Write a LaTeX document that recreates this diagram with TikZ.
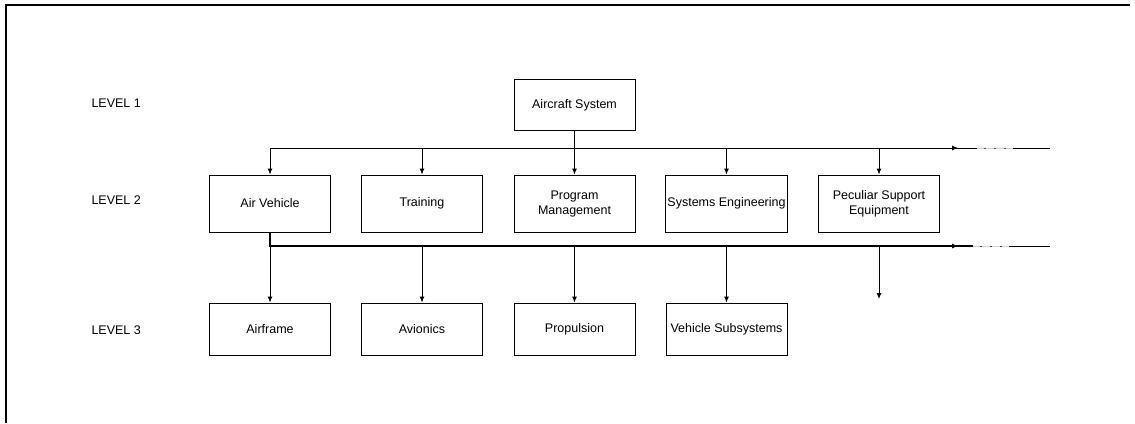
\documentclass[tikz,border=0pt]{standalone}
\usepackage{fontspec}
\setmainfont{Liberation Sans}
\usetikzlibrary{arrows.meta}
\begin{document}
\begin{tikzpicture}[x=1pt,y=-1pt,
  wbs/.style={draw, line width=0.9pt, minimum width=121pt, minimum height=55pt,
    align=center, inner sep=2pt, font=\fontsize{12.5}{15}\selectfont},
  lvl/.style={anchor=west, font=\fontsize{12.5}{15}\selectfont},
  link/.style={line width=0.9pt},
  feed/.style={line width=0.9pt, -{Latex[length=6pt,width=5pt]}},
  gap/.style={line width=1pt, gray!35},
  dots/.style={line width=1pt, black!70, dash pattern=on 2pt off 8pt}]
\useasboundingbox (0,0) rectangle (1135,423);
% page frame (top and left edges)
\draw[line width=1.4pt] (6,423) -- (6,5) -- (1130,5);

% level labels
\node[lvl] (l1) at (88,103) {LEVEL 1};
\node[lvl] (l2) at (88,200) {LEVEL 2};
\node[lvl] (l3) at (88,330) {LEVEL 3};

% level 1
\node[wbs, minimum height=51pt] (sys) at (574.5,105) {Aircraft System};

% level 2
\node[wbs, minimum height=57pt] (av) at (270,203.5) {Air Vehicle};
\node[wbs, minimum height=57pt] (tr) at (422,203.5) {Training};
\node[wbs, minimum height=57pt] (pm) at (574.5,203.5) {Program\\Management};
\node[wbs, minimum height=57pt] (se) at (726.5,203.5) {Systems Engineering};
\node[wbs, minimum height=57pt] (ps) at (879,203.5) {Peculiar Support\\Equipment};

% level 3
\node[wbs, minimum height=52pt] (af) at (270,329) {Airframe};
\node[wbs, minimum height=52pt] (ai) at (422,329) {Avionics};
\node[wbs, minimum height=52pt] (pr) at (574.5,329) {Propulsion};
\node[wbs, minimum height=52pt] (vs) at (726.5,329) {Vehicle Subsystems};
\coordinate (more3) at (879,299);

% level 1 -> level 2 bus
\coordinate (b1) at (574.5,148);
\coordinate (b1l) at (270,148);
\coordinate (b1a) at (958,148);
\coordinate (b1g) at (977,148);
\coordinate (b1h) at (1013,148);
\coordinate (b1r) at (1050,148);
\draw[link] (sys.south) -- (b1);
\draw[link] (b1l) -- (b1g);
\draw[feed] (b1) -- (b1a);
\draw[gap] (b1g) -- (b1h);
\draw[dots] ([xshift=7pt]b1g) -- (b1h);
\draw[link] (b1h) -- (b1r);
\foreach \t in {av,tr,pm,se,ps}
  \draw[feed] (b1 -| \t.north) -- (\t.north);

% level 2 -> level 3 bus
\coordinate (b2l) at (270,246);
\coordinate (b2a) at (958,246);
\coordinate (b2g) at (973,246);
\coordinate (b2h) at (1009,246);
\coordinate (b2r) at (1050,246);
\draw[line width=1.5pt] (av.south) -- (b2l) -- (b2g);
\draw[feed] (b2l) -- (b2a);
\draw[gap] (b2g) -- (b2h);
\draw[dots] ([xshift=7pt]b2g) -- (b2h);
\draw[link] (b2h) -- (b2r);
\foreach \t in {af,ai,pr,vs}
  \draw[feed] (b2l -| \t.north) -- (\t.north);
\draw[feed] (b2l -| more3) -- (more3);
\end{tikzpicture}
\end{document}
